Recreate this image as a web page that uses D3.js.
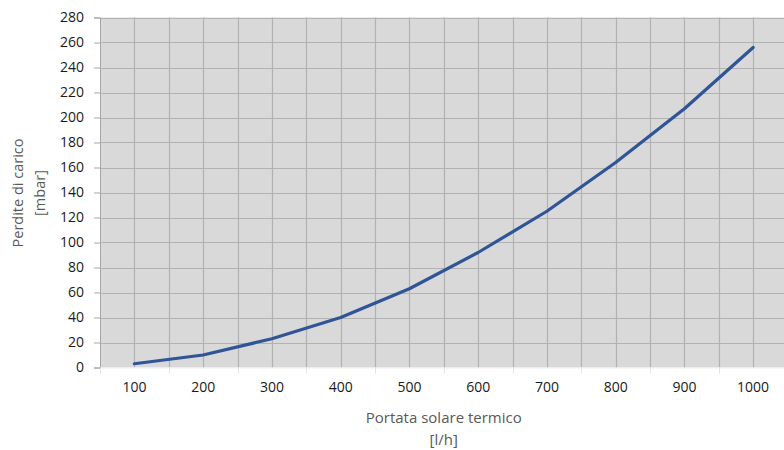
<!DOCTYPE html>
<html><head><meta charset="utf-8">
<script src="https://cdn.jsdelivr.net/npm/d3@7"></script>
<style>body{margin:0;background:#fff}svg{display:block}</style>
</head><body>
<script>
const categories = ["100","200","300","400","500","600","700","800","900","1000"];
const values = [3, 10, 23, 40, 63, 92, 125, 164, 207, 256];
const yTicks = [0,20,40,60,80,100,120,140,160,180,200,220,240,260,280];
const xTitle = ["Portata solare termico", "[l/h]"];
const yTitle = ["Perdite di carico", "[mbar]"];

(function(){
const W = 784, H = 450;
const svg = d3.select("body").append("svg").attr("width", W).attr("height", H);
const pL = 100, pR = 787.5, pT = 17.5, pB = 367.5;
const x = d3.scaleBand().domain(categories).range([pL, pR]).padding(0);
const y = d3.scaleLinear().domain([0, 280]).range([pB, pT]);
const cx = d => x(d) + x.bandwidth() / 2;

svg.append("rect").attr("x", pL).attr("y", pT).attr("width", pR - pL).attr("height", pB - pT).attr("fill", "#d9d9d9");

const grid = svg.append("g").attr("stroke", "#b2b2b2").attr("stroke-width", 1.2);
const vx = [];
categories.forEach(c => { vx.push(x(c)); vx.push(cx(c)); });
vx.push(pR);
grid.selectAll("line.v").data(vx.slice(1)).join("line")
  .attr("x1", d => Math.round(d) + 0.5).attr("x2", d => Math.round(d) + 0.5)
  .attr("y1", pT).attr("y2", pB);
grid.selectAll("line.h").data(yTicks.slice(1)).join("line")
  .attr("x1", pL).attr("x2", pR)
  .attr("y1", d => Math.round(y(d)) + 0.5).attr("y2", d => Math.round(y(d)) + 0.5);

const yAxis = svg.append("g").attr("transform", `translate(${pL},0)`)
  .call(d3.axisLeft(y).tickValues(yTicks).tickSize(6).tickPadding(10));
yAxis.select(".domain").attr("stroke", "#a6a6a6");
yAxis.selectAll(".tick line").attr("stroke", "#a6a6a6");
yAxis.selectAll("text").attr("font-family", "Open Sans").attr("font-size", "14px").attr("fill", "#1a1a1a");

const xAxis = svg.append("g").attr("transform", `translate(0,${pB})`)
  .call(d3.axisBottom(x).tickSize(0).tickPadding(15));
xAxis.select(".domain").attr("stroke", "#eeeeee");
xAxis.selectAll("text").attr("font-family", "Open Sans").attr("font-size", "14px").attr("fill", "#1a1a1a");
svg.append("g").attr("stroke", "#e2e2e2").selectAll("line").data(categories).join("line")
  .attr("x1", d => Math.round(x(d)) + 0.5).attr("x2", d => Math.round(x(d)) + 0.5)
  .attr("y1", pB).attr("y2", pB + 6);

const line = d3.line().x((d, i) => cx(categories[i])).y(d => y(d));
svg.append("path").datum(values).attr("d", line)
  .attr("fill", "none").attr("stroke", "#2f5597").attr("stroke-width", 3.2)
  .attr("stroke-linejoin", "round").attr("stroke-linecap", "round");

const tfont = "15px";
svg.append("text").attr("font-family", "Open Sans").attr("font-size", tfont).attr("fill", "#595959").attr("text-anchor", "middle")
  .attr("x", (pL + pR) / 2).attr("y", 423).text(xTitle[0]);
svg.append("text").attr("font-family", "Open Sans").attr("font-size", tfont).attr("fill", "#595959").attr("text-anchor", "middle")
  .attr("x", (pL + pR) / 2).attr("y", 444.5).text(xTitle[1]);

const ty = svg.append("text").attr("font-family", "Open Sans").attr("font-size", "14.5px").attr("fill", "#595959").attr("text-anchor", "middle")
  .attr("transform", "translate(0,193) rotate(-90)");
ty.append("tspan").attr("x", 0).attr("y", 23).text(yTitle[0]);
ty.append("tspan").attr("x", 0).attr("y", 45).text(yTitle[1]);
})();
</script>
</body></html>
